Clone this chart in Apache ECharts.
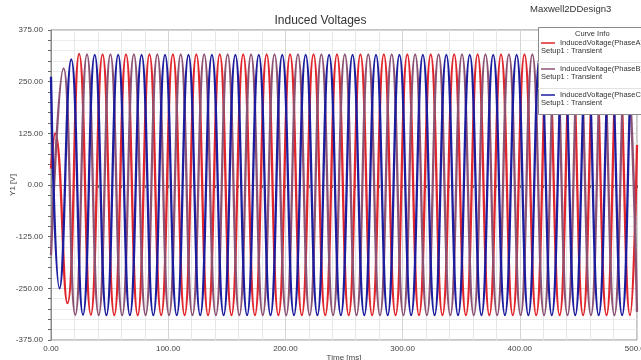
<!DOCTYPE html>
<html>
<head>
<meta charset="utf-8">
<script src="https://cdn.jsdelivr.net/npm/echarts@6/dist/echarts.min.js"></script>
<style>
  html, body { margin: 0; padding: 0; background: #fff; }
  #chart { width: 641px; height: 360px; }
</style>
</head>
<body>
<div id="chart"></div>
<script>
// extrema of each phase (time in ms, voltage in V)
const timeA = [0, 3.5, 14, 24, 34, 44, 54, 64, 74, 84,
  94, 104, 114, 124, 134, 144, 154, 164, 174, 184,
  194, 204, 214, 224, 234, 244, 254, 264, 274, 284,
  294, 304, 314, 324, 334, 344, 354, 364, 374, 384,
  394, 404, 414, 424, 434, 444, 454, 464, 474, 484,
  494, 500];
const voltA = [40, 125, -286, 317, -314, 316, -315, 316, -315, 316,
  -315, 316, -315, 316, -315, 316, -315, 316, -315, 316,
  -315, 316, -315, 316, -315, 316, -315, 316, -315, 316,
  -315, 316, -315, 316, -315, 316, -315, 316, -315, 316,
  -315, 316, -315, 316, -315, 316, -315, 316, -315, 316,
  -315, 97];

const timeB = [0, 10.7, 20.7, 30.7, 40.7, 50.7, 60.7, 70.7, 80.7, 90.7,
  100.7, 110.7, 120.7, 130.7, 140.7, 150.7, 160.7, 170.7, 180.7, 190.7,
  200.7, 210.7, 220.7, 230.7, 240.7, 250.7, 260.7, 270.7, 280.7, 290.7,
  300.7, 310.7, 320.7, 330.7, 340.7, 350.7, 360.7, 370.7, 380.7, 390.7,
  400.7, 410.7, 420.7, 430.7, 440.7, 450.7, 460.7, 470.7, 480.7, 490.7,
  500];
const voltB = [-170, 282, -314, 316, -315, 316, -315, 316, -315, 316,
  -315, 316, -315, 316, -315, 316, -315, 316, -315, 316,
  -315, 316, -315, 316, -315, 316, -315, 316, -315, 316,
  -315, 316, -315, 316, -315, 316, -315, 316, -315, 316,
  -315, 316, -315, 316, -315, 316, -315, 316, -315, 316,
  -307];

const timeC = [0, 7.3, 17.3, 27.3, 37.3, 47.3, 57.3, 67.3, 77.3, 87.3,
  97.3, 107.3, 117.3, 127.3, 137.3, 147.3, 157.3, 167.3, 177.3, 187.3,
  197.3, 207.3, 217.3, 227.3, 237.3, 247.3, 257.3, 267.3, 277.3, 287.3,
  297.3, 307.3, 317.3, 327.3, 337.3, 347.3, 357.3, 367.3, 377.3, 387.3,
  397.3, 407.3, 417.3, 427.3, 437.3, 447.3, 457.3, 467.3, 477.3, 487.3,
  497.3, 500];
const voltC = [262, -250, 304, -314, 315, -315, 315, -315, 315, -315,
  315, -315, 315, -315, 315, -315, 315, -315, 315, -315,
  315, -315, 315, -315, 315, -315, 315, -315, 315, -315,
  315, -315, 315, -315, 315, -315, 315, -315, 315, -315,
  315, -315, 315, -315, 315, -315, 315, -315, 315, -315,
  315, 208];

const names = ["InducedVoltage(PhaseA)", "InducedVoltage(PhaseB)", "InducedVoltage(PhaseC)"];
const colors = ["#e0262c", "#8c5274", "#1c1c9e"];

const pairs = (ts, vs) => ts.map((t, i) => [t, vs[i]]);
const seriesData = [pairs(timeA, voltA), pairs(timeB, voltB), pairs(timeC, voltC)];

const FONT = "Liberation Sans";
const chart = echarts.init(document.getElementById("chart"), null, { renderer: "canvas" });

// legend box ("Curve Info") drawn like the simulator's overlay
const legendItems = names.map((n, i) => {
  const y = 43 + i * 26;
  return [
    { type: "line", z: 101, shape: { x1: 541, y1: y, x2: 555, y2: y }, style: { stroke: colors[i], lineWidth: 1.5 } },
    { type: "text", z: 101, x: 560, y: y, style: { text: n, font: `7.5px ${FONT}`, fill: "#333", verticalAlign: "middle" } },
    { type: "text", z: 101, x: 541, y: y + 8, style: { text: "Setup1 : Transient", font: `7.5px ${FONT}`, fill: "#333", verticalAlign: "middle" } },
  ];
}).flat();

chart.setOption({
  animation: false,
  backgroundColor: "#fff",
  title: {
    text: "Induced Voltages",
    left: "center",
    top: 10,
    textStyle: { fontFamily: FONT, fontSize: 12, fontWeight: "normal", color: "#333" },
  },
  grid: {
    left: 51, right: 4, top: 30, bottom: 20,
    containLabel: false, outerBoundsMode: "none",
    show: true, borderColor: "#8a8a8a", borderWidth: 1,
  },
  xAxis: {
    type: "value",
    min: 0,
    max: 500,
    interval: 100,
    name: "Time [ms]",
    nameLocation: "middle",
    nameGap: 14,
    nameMoveOverlap: false,
    nameTextStyle: { fontFamily: FONT, fontSize: 8, color: "#444", verticalAlign: "top" },
    axisLine: { lineStyle: { color: "#8a8a8a" } },
    axisTick: { length: 3, lineStyle: { color: "#666" } },
    minorTick: { show: true, splitNumber: 5, length: 3, lineStyle: { color: "#666" } },
    axisLabel: { fontFamily: FONT, fontSize: 8, color: "#444", margin: 5, formatter: (v) => v.toFixed(2) },
    splitLine: { show: true, lineStyle: { color: "#d4d4d4" } },
    minorSplitLine: { show: true, lineStyle: { color: "#e6e6e6" } },
  },
  yAxis: {
    type: "value",
    min: -375,
    max: 375,
    interval: 125,
    name: "Y1 [V]",
    nameLocation: "middle",
    nameGap: 38,
    nameMoveOverlap: false,
    nameTextStyle: { fontFamily: FONT, fontSize: 8, color: "#444", verticalAlign: "middle" },
    axisLine: { show: true, lineStyle: { color: "#8a8a8a" } },
    axisTick: { show: true, length: 3, lineStyle: { color: "#666" } },
    minorTick: { show: true, splitNumber: 5, length: 3, lineStyle: { color: "#666" } },
    axisLabel: { fontFamily: FONT, fontSize: 8, color: "#444", margin: 8, formatter: (v) => v.toFixed(2) },
    splitLine: { show: true, lineStyle: { color: "#d4d4d4" } },
    minorSplitLine: { show: true, lineStyle: { color: "#ececec" } },
  },
  series: seriesData.map((data, i) => ({
    name: names[i],
    type: "line",
    data,
    smooth: true,
    showSymbol: false,
    lineStyle: { width: 2.3, color: colors[i] },
    itemStyle: { color: colors[i] },
  })),
  graphic: [
    { type: "text", x: 530, y: 4, style: { text: "Maxwell2DDesign3", font: `9.5px ${FONT}`, fill: "#333" } },
    {
      type: "group",
      zlevel: 1,
      z: 100,
      children: [
        { type: "rect", z: 100, shape: { x: 538.5, y: 27.5, width: 110, height: 87 }, style: { fill: "#fff", stroke: "#8a8a8a", lineWidth: 1 } },
        { type: "text", z: 101, x: 575, y: 30, style: { text: "Curve Info", font: `7.5px ${FONT}`, fill: "#333" } },
        { type: "line", z: 101, shape: { x1: 538, y1: 62.5, x2: 641, y2: 62.5 }, style: { stroke: "#e2e2e2", lineWidth: 1 } },
        { type: "line", z: 101, shape: { x1: 538, y1: 88.5, x2: 641, y2: 88.5 }, style: { stroke: "#e2e2e2", lineWidth: 1 } },
        ...legendItems,
      ],
    },
  ],
});
</script>
</body>
</html>
